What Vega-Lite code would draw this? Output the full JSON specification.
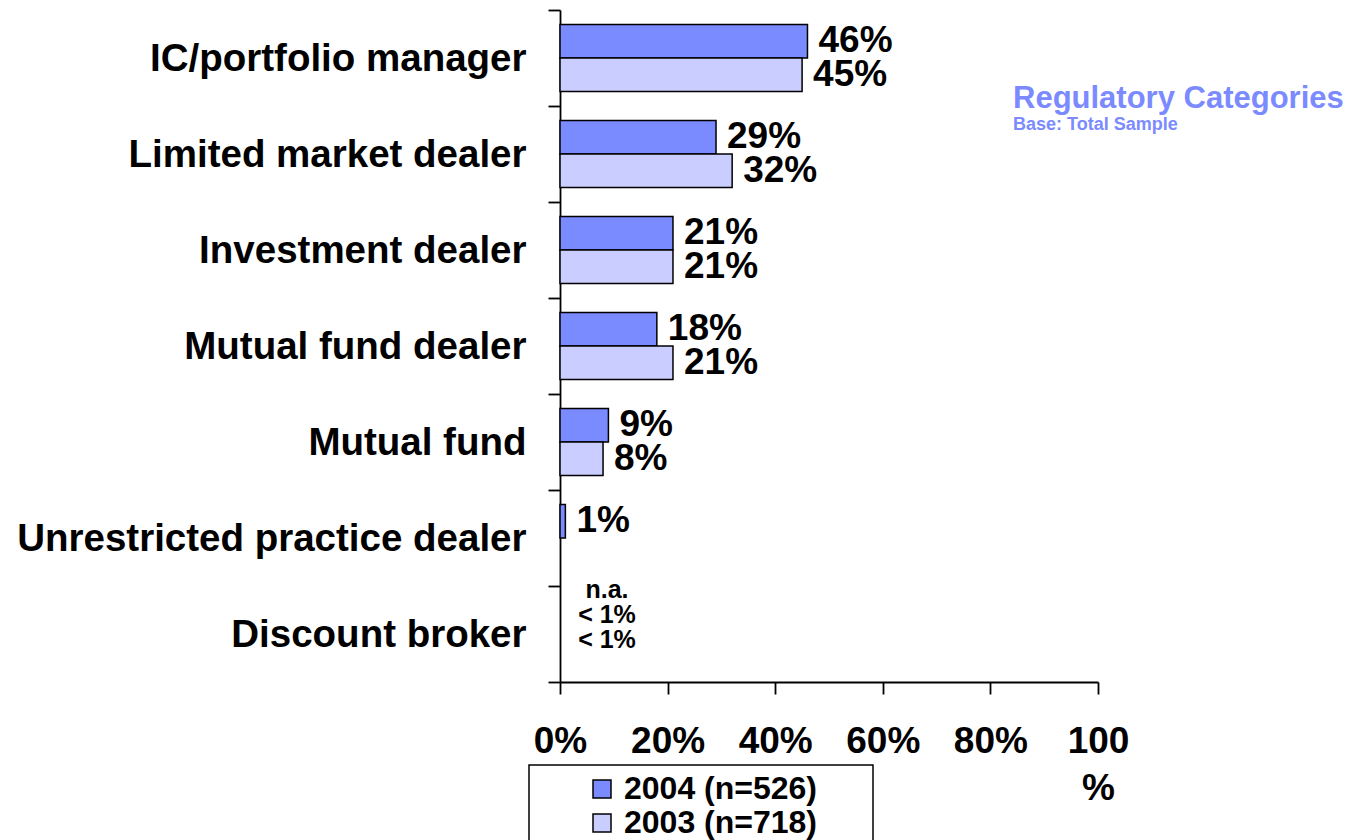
{
  "$schema": "https://vega.github.io/schema/vega-lite/v6.json",
  "width": 538,
  "height": 672,
  "autosize": {"type": "none"},
  "padding": {"left": 560, "top": 10, "right": 256, "bottom": 158},
  "background": "white",
  "title": {
    "text": "Regulatory Categories",
    "subtitle": "Base: Total Sample",
    "anchor": "start",
    "frame": "group",
    "orient": "top",
    "dx": 453,
    "offset": -144,
    "color": "#7B8BFF",
    "subtitleColor": "#7B8BFF",
    "font": "Liberation Sans",
    "subtitleFont": "Liberation Sans",
    "fontSize": 31,
    "subtitleFontSize": 18,
    "fontWeight": "bold",
    "subtitleFontWeight": "bold",
    "subtitlePadding": 1
  },
  "datasets": {
    "bars": [
      {"category": "IC/portfolio manager", "year": "2004 (n=526)", "value": 46, "label": "46%"},
      {"category": "IC/portfolio manager", "year": "2003 (n=718)", "value": 45, "label": "45%"},
      {"category": "Limited market dealer", "year": "2004 (n=526)", "value": 29, "label": "29%"},
      {"category": "Limited market dealer", "year": "2003 (n=718)", "value": 32, "label": "32%"},
      {"category": "Investment dealer", "year": "2004 (n=526)", "value": 21, "label": "21%"},
      {"category": "Investment dealer", "year": "2003 (n=718)", "value": 21, "label": "21%"},
      {"category": "Mutual fund dealer", "year": "2004 (n=526)", "value": 18, "label": "18%"},
      {"category": "Mutual fund dealer", "year": "2003 (n=718)", "value": 21, "label": "21%"},
      {"category": "Mutual fund", "year": "2004 (n=526)", "value": 9, "label": "9%"},
      {"category": "Mutual fund", "year": "2003 (n=718)", "value": 8, "label": "8%"},
      {"category": "Unrestricted practice dealer", "year": "2004 (n=526)", "value": 1, "label": "1%"}
    ],
    "notes": [
      {"category": "Discount broker", "note": "n.a.\n< 1%\n< 1%"}
    ]
  },
  "layer": [
    {
      "data": {"name": "bars"},
      "mark": {"type": "bar", "stroke": "black", "strokeWidth": 1.5},
      "encoding": {
        "x": {
          "field": "value",
          "type": "quantitative",
          "scale": {"domain": [0, 100], "nice": false},
          "axis": {
            "title": null,
            "values": [0, 20, 40, 60, 80, 100],
            "labelExpr": "datum.value == 100 ? ['100', '%'] : datum.value + '%'",
            "labelFlush": false,
            "labelOverlap": false,
            "labelPadding": 29,
            "labelLineHeight": 47,
            "labelFontSize": 37,
            "labelFont": "Liberation Sans",
            "labelFontWeight": "bold",
            "labelColor": "black",
            "tickSize": 12,
            "tickColor": "black",
            "tickWidth": 1.8,
            "domainColor": "black",
            "domainWidth": 1.8,
            "grid": false
          }
        },
        "y": {
          "field": "category",
          "type": "nominal",
          "scale": {
            "domain": ["IC/portfolio manager", "Limited market dealer", "Investment dealer", "Mutual fund dealer", "Mutual fund", "Unrestricted practice dealer", "Discount broker"],
            "paddingInner": 0,
            "paddingOuter": 0
          },
          "axis": {
            "title": null,
            "labelFontSize": 38.5,
            "labelFont": "Liberation Sans",
            "labelFontWeight": "bold",
            "labelColor": "black",
            "labelPadding": 22,
            "labelLimit": 700,
            "tickSize": 12,
            "tickColor": "black",
            "tickWidth": 1.8,
            "tickBand": "extent",
            "domainColor": "black",
            "domainWidth": 1.8,
            "grid": false
          }
        },
        "yOffset": {
          "field": "year",
          "type": "nominal",
          "scale": {"domain": ["2004 (n=526)", "2003 (n=718)"], "paddingOuter": 0.43, "paddingInner": 0}
        },
        "color": {
          "field": "year",
          "type": "nominal",
          "scale": {"domain": ["2004 (n=526)", "2003 (n=718)"], "range": ["#7A8AFF", "#C9CDFF"]},
          "legend": {
            "title": "\u00a0",
            "titleOrient": "right",
            "titleFontSize": 31,
            "titlePadding": 48,
            "orient": "none",
            "legendX": -31,
            "legendY": 755,
            "strokeColor": "black",
            "padding": 8,
            "symbolType": "square",
            "symbolSize": 324,
            "symbolStrokeColor": "black",
            "symbolStrokeWidth": 1.5,
            "symbolOpacity": 1,
            "symbolOffset": 49,
            "labelFontSize": 32,
            "labelFont": "Liberation Sans",
            "labelFontWeight": "bold",
            "labelColor": "black",
            "labelOffset": 6,
            "labelLimit": 1000,
            "rowPadding": 2
          }
        }
      }
    },
    {
      "data": {"name": "bars"},
      "mark": {"type": "text", "align": "left", "baseline": "middle", "dx": 11, "fontSize": 37, "font": "Liberation Sans", "fontWeight": "bold", "color": "black"},
      "encoding": {
        "x": {"field": "value", "type": "quantitative"},
        "y": {"field": "category", "type": "nominal"},
        "yOffset": {"field": "year", "type": "nominal"},
        "text": {"field": "label"}
      }
    },
    {
      "data": {"name": "notes"},
      "mark": {"type": "text", "align": "center", "baseline": "middle", "lineBreak": "\n", "dx": 47, "dy": -44, "fontSize": 25, "lineHeight": 25, "font": "Liberation Sans", "fontWeight": "bold", "color": "black"},
      "encoding": {
        "x": {"datum": 0, "type": "quantitative"},
        "y": {"field": "category", "type": "nominal"},
        "text": {"field": "note"}
      }
    }
  ],
  "config": {
    "view": {"stroke": null},
    "legend": {"strokeWidth": 1.5}
  }
}
